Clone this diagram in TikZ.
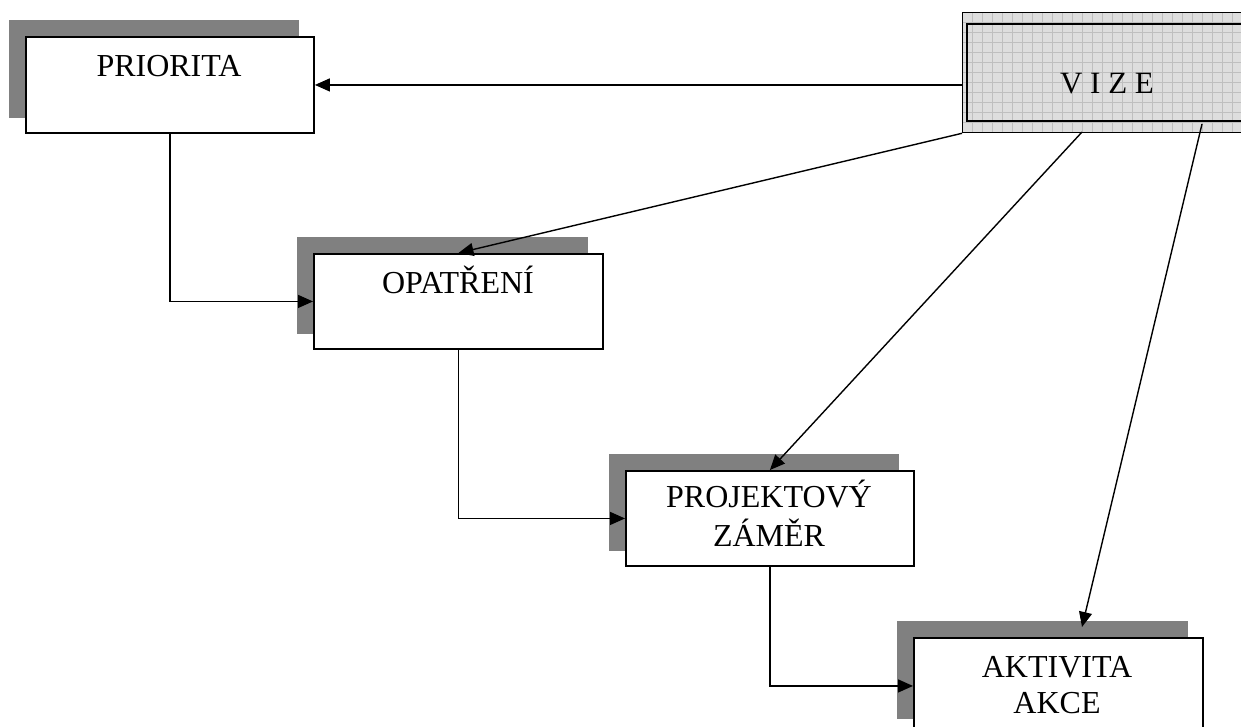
\documentclass[tikz,border=0pt]{standalone}
\usepackage{fontspec}
\setmainfont{Liberation Serif}
\usetikzlibrary{calc,arrows.meta,backgrounds}
\begin{document}
\begin{tikzpicture}[x=1pt,y=-1pt,
  box/.style={draw, line width=1.9pt, fill=white, inner sep=0pt, anchor=north west},
  shadowc/.style={fill=black!50},
  lbl/.style={font=\fontsize{32}{37}\selectfont, align=center, anchor=base, inner sep=0pt},
  arr/.style={-{Triangle[length=15pt,width=13pt]}, line width=1.4pt}]
\useasboundingbox (0,0) rectangle (1241,727);
% boxes
\node[box, minimum width=288pt, minimum height=96pt] (prio) at (25,36) {};
\node[box, minimum width=289pt, minimum height=95pt] (opat) at (313,253) {};
\node[box, minimum width=288pt, minimum height=95pt] (proj) at (625,470) {};
\node[box, minimum width=289pt, minimum height=96pt] (akt) at (913,637) {};
\begin{scope}[on background layer]
  \foreach \n in {prio,opat,proj,akt}
    \fill[shadowc] ($(\n.north west)+(-16,-16)$) rectangle ($(\n.south east)+(-16,-16)$);
\end{scope}
% VIZE
\node[draw, line width=1.3pt, fill=black!13, inner sep=0pt, anchor=north west,
  minimum width=300pt, minimum height=120pt,
  path picture={\draw[black!25, line width=0.5pt, step=10pt]
    (path picture bounding box.south west) grid (path picture bounding box.north east);}]
  (vize) at (962,12) {};
\draw[line width=1.9pt] ($(vize.north west)+(5,12)$) rectangle ($(vize.south east)+(-5,-12)$);
% labels
\node[lbl] (tp) at (169,77) {PRIORITA};
\node[lbl] (to) at (458,293) {OPATŘENÍ};
\node[lbl, font=\fontsize{32}{39}\selectfont] (tj) at (769,546) {PROJEKTOVÝ\\ZÁMĚR};
\node[lbl, font=\fontsize{32}{36}\selectfont] (ta) at (1057,713) {AKTIVITA\\AKCE};
\node[lbl, font=\fontsize{31}{37}\selectfont] (tv) at (1107,94) {V I Z E};
% connectors
\coordinate (v2) at (1082,132);
\coordinate (v3) at (1202,124);
\coordinate (a3) at (1082,627);
\draw[arr] (vize.west |- prio.east) -- (prio.east);
\draw[arr] (vize.south west) -- (opat.north);
\draw[arr] (v2) -- (proj.north);
\draw[arr] (v3) -- (a3);
\draw[arr] (prio.south) |- (opat.west);
\draw[arr] (opat.south) |- (proj.west);
\draw[arr] (proj.south) |- (akt.west);
\end{tikzpicture}
\end{document}
